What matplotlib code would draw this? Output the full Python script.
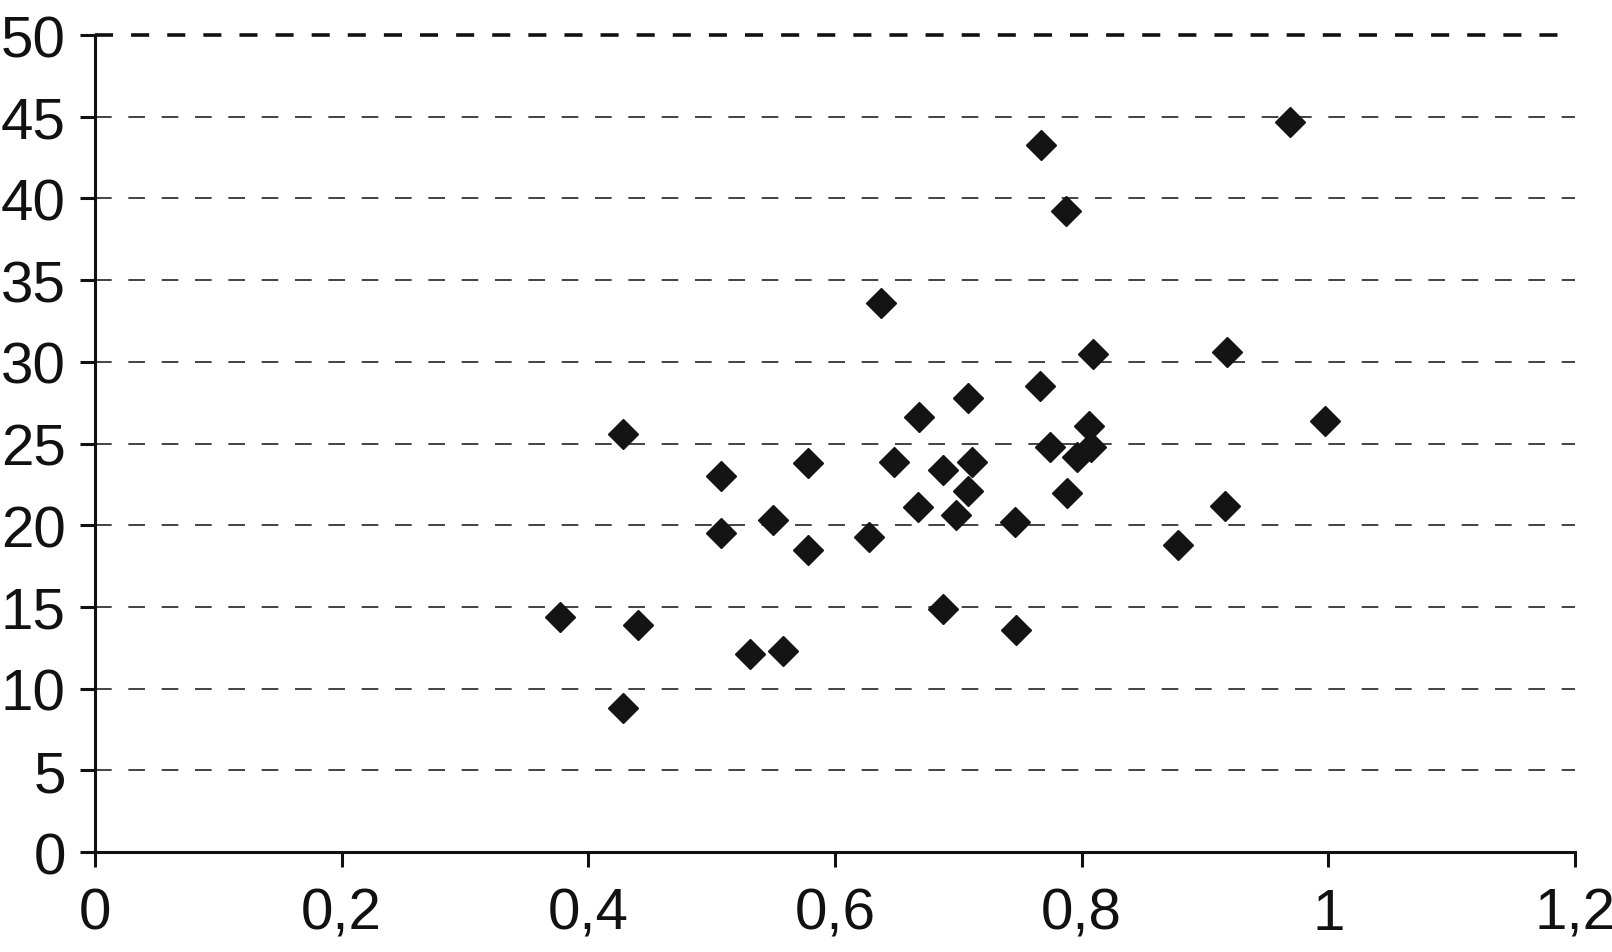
import matplotlib.pyplot as plt

# values
x_values = [0.377, 0.428, 0.44, 0.428, 0.508, 0.508, 0.531, 0.55, 0.558, 0.578,
            0.578, 0.628, 0.637, 0.648, 0.668, 0.667, 0.688, 0.688, 0.698, 0.708,
            0.711, 0.708, 0.746, 0.747, 0.766, 0.767, 0.774, 0.787, 0.788, 0.796,
            0.806, 0.809, 0.808, 0.878, 0.918, 0.916, 0.969, 0.997]
y_values = [14.4, 25.6, 13.9, 8.8, 23.0, 19.5, 12.1, 20.3, 12.3, 23.8,
            18.5, 19.3, 33.6, 23.9, 26.6, 21.1, 23.4, 14.9, 20.6, 27.8,
            23.9, 22.1, 20.2, 13.6, 28.5, 43.3, 24.8, 39.2, 22.0, 24.2,
            26.1, 30.5, 24.8, 18.8, 30.6, 21.2, 44.7, 26.4]

x_ticks = [0, 0.2, 0.4, 0.6, 0.8, 1.0, 1.2]
x_tick_labels = ['0', '0,2', '0,4', '0,6', '0,8', '1', '1,2']
y_ticks = [0, 5, 10, 15, 20, 25, 30, 35, 40, 45, 50]

plt.rcParams['font.family'] = ['Liberation Sans', 'DejaVu Sans']

fig = plt.figure(figsize=(16.12, 9.53), dpi=100)
ax = fig.add_axes([0.0589, 0.1049, 0.9181, 0.8573])

# horizontal dashed grid, the top line is drawn heavier
for y in y_ticks[1:-1]:
    ax.axhline(y, color='#222222', linewidth=1.2, linestyle=(0, (10, 10)), zorder=1)
ax.axhline(50, color='#111111', linewidth=2.6, linestyle=(0, (5, 5)), zorder=1,
           clip_on=False)

ax.plot(x_values, y_values, linestyle='none', marker='D', markersize=15.5,
        color='#141414', zorder=3)

ax.set_xlim(0, 1.2)
ax.set_ylim(0, 50)
ax.set_xticks(x_ticks)
ax.set_xticklabels(x_tick_labels)
ax.set_yticks(y_ticks)

for side in ['top', 'right']:
    ax.spines[side].set_visible(False)
for side in ['left', 'bottom']:
    ax.spines[side].set_linewidth(2.2)
    ax.spines[side].set_color('#111111')

ax.tick_params(axis='both', direction='out', length=11, width=2.2,
               color='#111111', labelsize=42, labelcolor='#111111')
ax.tick_params(axis='x', pad=14)
ax.tick_params(axis='y', pad=10)

fig.savefig('out.png', dpi=100)
